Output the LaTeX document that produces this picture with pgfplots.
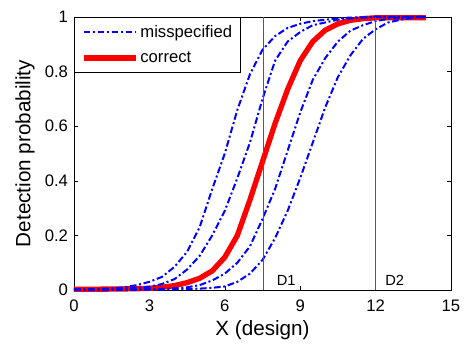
\documentclass[border=0pt]{standalone}
\usepackage{fontspec}
\setmainfont{Liberation Sans}
\usepackage{pgfplots}
\usepackage{pgfplotstable}
\pgfplotsset{compat=1.18}

\pgfplotstableread{
x y
0 0.002
0.5 0.003
1 0.004
1.5 0.006
2 0.010
2.5 0.018
3 0.030
3.5 0.048
4 0.085
4.5 0.14
5 0.23
5.5 0.37
6 0.50
6.5 0.66
7 0.79
7.5 0.88
8 0.93
8.5 0.96
9 0.975
9.5 0.985
10 0.99
10.5 0.995
11 0.998
12 1
13 1
14 1
}\curveA

\pgfplotstableread{
x y
0 0.001
1 0.002
2 0.005
2.5 0.008
3 0.012
3.5 0.022
4 0.04
4.5 0.075
5 0.125
5.5 0.20
6 0.29
6.5 0.41
7 0.54
7.5 0.70
8 0.84
8.5 0.91
9 0.945
9.5 0.97
10 0.98
10.5 0.99
11 0.995
12 1
13 1
14 1
}\curveB

\pgfplotstableread{
x y
0 0.003
1 0.003
2 0.004
3 0.006
3.5 0.010
4 0.016
4.5 0.027
5 0.043
5.5 0.07
6 0.12
6.5 0.20
7 0.33
7.5 0.47
8 0.61
8.5 0.735
9 0.84
9.5 0.91
10 0.952
10.5 0.975
11 0.988
11.5 0.994
12 0.997
13 0.997
14 0.997
}\curveRed

\pgfplotstableread{
x y
0 0.001
2 0.002
3 0.003
4 0.006
4.5 0.010
5 0.018
5.5 0.035
6 0.06
6.5 0.10
7 0.16
7.5 0.26
8 0.37
8.5 0.51
9 0.65
9.5 0.77
10 0.85
10.5 0.91
11 0.95
11.5 0.97
12 0.985
12.5 0.993
13 0.998
14 1
}\curveC

\pgfplotstableread{
x y
0 0.000
3 0.001
4 0.002
5 0.005
5.5 0.008
6 0.013
6.5 0.03
7 0.06
7.5 0.11
8 0.19
8.5 0.29
9 0.41
9.5 0.54
10 0.67
10.5 0.78
11 0.86
11.5 0.92
12 0.955
12.5 0.98
13 0.99
13.5 0.997
14 1
}\curveD

\begin{document}
\begin{tikzpicture}
\begin{axis}[
  name=ax,
  scale only axis,
  width=282.75pt, height=204.75pt,
  xmin=0, xmax=15, ymin=0, ymax=1,
  xtick={0,3,6,9,12,15},
  ytick={0,0.2,0.4,0.6,0.8,1},
  yticklabels={0,0.2,0.4,0.6,0.8,1},
  tick align=inside,
  xtick pos=both, ytick pos=both,
  major tick length=3pt,
  tick style={black, line width=0.4pt},
  axis line style={black, line width=0.6pt},
  /pgf/number format/assume math mode=true,
  every tick label/.append style={font=\fontsize{12.5}{14}\selectfont},
  xticklabel style={yshift=-4pt},
  yticklabel style={xshift=-1pt},
  xlabel={X (design)},
  ylabel={Detection probability},
  label style={font=\fontsize{15.5}{18}\selectfont},
  xlabel style={at={(axis description cs:0.5,-0.148)}, anchor=center},
  ylabel style={at={(axis description cs:-0.13,0.5)}, anchor=center},
  clip=false,
  reverse legend,
  legend cell align=left,
  legend image code/.code={\draw[#1] (0pt,0pt) -- (39pt,0pt);},
  legend style={at={(0,1)}, anchor=north west, draw=black, line width=0.6pt,
    font=\fontsize{12.5}{14}\selectfont, inner xsep=5pt, inner ysep=4.5pt,
    row sep=6pt, nodes={inner sep=1.5pt}},
]
\addplot[red, line width=4pt] table {\curveRed};
\addlegendentry{correct}
\addplot[blue, line width=1.5pt, dash pattern=on 5pt off 2pt on 1.5pt off 2pt] table {\curveA};
\addlegendentry{misspecified}
\addplot[blue, line width=1.5pt, dash pattern=on 5pt off 2pt on 1.5pt off 2pt, forget plot] table {\curveB};
\addplot[blue, line width=1.5pt, dash pattern=on 5pt off 2pt on 1.5pt off 2pt, forget plot] table {\curveC};
\addplot[blue, line width=1.5pt, dash pattern=on 5pt off 2pt on 1.5pt off 2pt, forget plot] table {\curveD};
\addplot[black!65, line width=0.5pt, forget plot] coordinates {(7.53,0) (7.53,1)};
\addplot[black!65, line width=0.5pt, forget plot] coordinates {(12,0) (12,1)};
\node[anchor=base west, font=\fontsize{11}{12}\selectfont] at (axis cs:7.88,0.015) {D1};
\node[anchor=base west, font=\fontsize{11}{12}\selectfont] at (axis cs:12.2,0.015) {D2};
\end{axis}
\pgfresetboundingbox
\path ([shift={(-55.5pt,-39.75pt)}]ax.south west) rectangle ([shift={(9.75pt,12.75pt)}]ax.north east);
\end{tikzpicture}
\end{document}
